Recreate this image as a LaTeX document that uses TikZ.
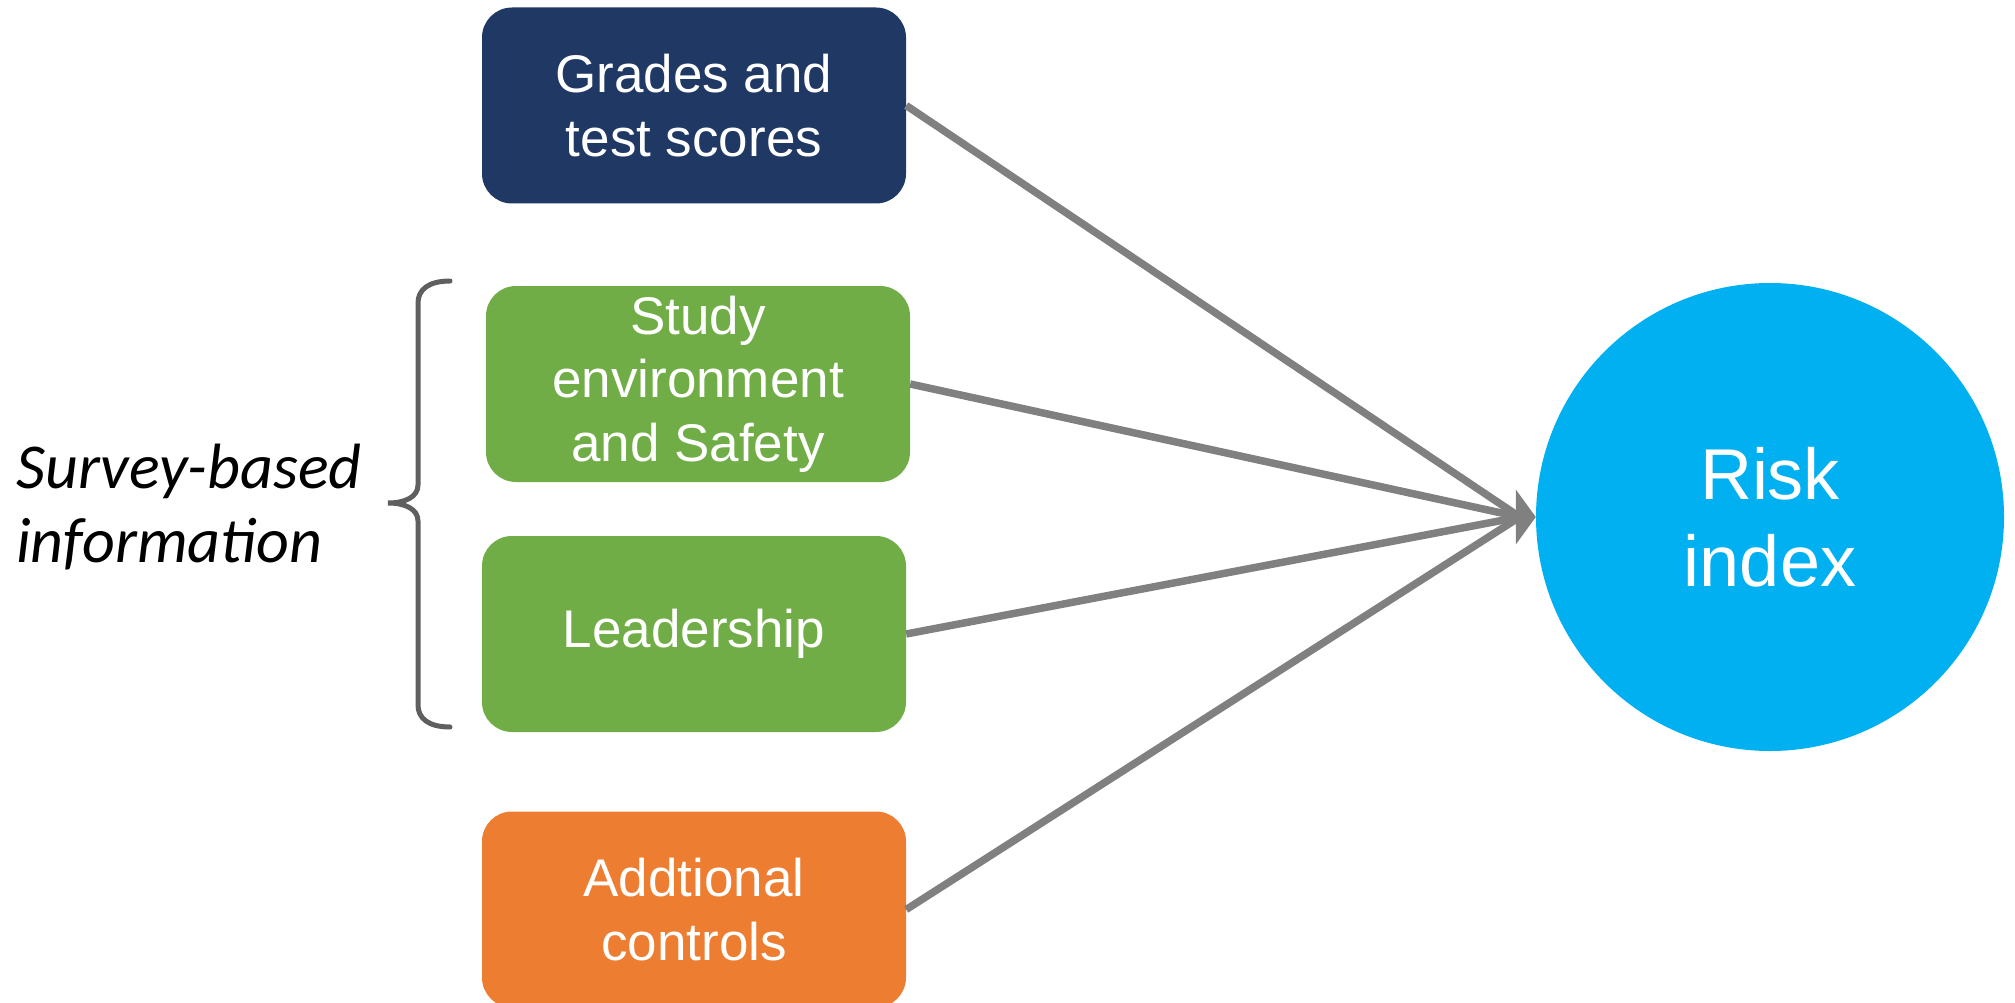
\documentclass[tikz,border=0pt]{standalone}
\usepackage{fontspec}
\setmainfont{Liberation Sans}
\newfontfamily\carlito{Carlito}
\usetikzlibrary{arrows.meta}
\definecolor{navyc}{HTML}{203864}
\definecolor{greenc}{HTML}{70AD47}
\definecolor{orangec}{HTML}{ED7D31}
\definecolor{bluec}{HTML}{00B0F0}
\definecolor{linec}{HTML}{808080}
\definecolor{bracec}{HTML}{5F5F5F}
\begin{document}
\begin{tikzpicture}[x=1pt,y=-1pt,
  factor/.style={rounded corners=30pt, text=white, align=center, inner sep=0pt,
    minimum width=424pt, minimum height=196pt,
    font=\fontsize{53}{63.5}\selectfont},
  link/.style={draw=linec, line width=7.5pt}]
\useasboundingbox (0,0) rectangle (2015,1003);
\node[factor, fill=navyc] (grades) at (694,105.5) {Grades and\\test scores};
\node[factor, fill=greenc] (study) at (698,384) {Study\\environment\\and Safety};
\node[factor, fill=greenc] (lead) at (694,634) {Leadership};
\node[factor, fill=orangec] (add) at (694,909.5) {Addtional\\controls};
\node[circle, fill=bluec, text=white, minimum size=468pt, inner sep=0pt, align=center,
  font=\fontsize{72}{87}\selectfont] (risk) at (1770,517) {Risk\\index};
\coordinate (hub) at (risk.west);
\foreach \n in {grades,study,lead,add}
  \draw[link] (\n.east) -- ([xshift=-16pt]hub);
\draw[link, -{Triangle[length=20pt,width=54pt]}] ([xshift=-22pt]hub) -- (hub);
\node[anchor=west, inner sep=0pt, align=left, font=\carlito\itshape\fontsize{64}{74}\selectfont]
  (survey) at (16,507) {Survey-based\\information};
\draw[draw=bracec, line width=5pt, line cap=round]
  (450,281) .. controls (428,281) and (418,290) .. (418,303)
  -- (418,485) .. controls (418,497) and (405,503) .. (388,503)
  .. controls (405,503) and (418,509) .. (418,521)
  -- (418,705) .. controls (418,718) and (428,727) .. (450,727);
\end{tikzpicture}
\end{document}
